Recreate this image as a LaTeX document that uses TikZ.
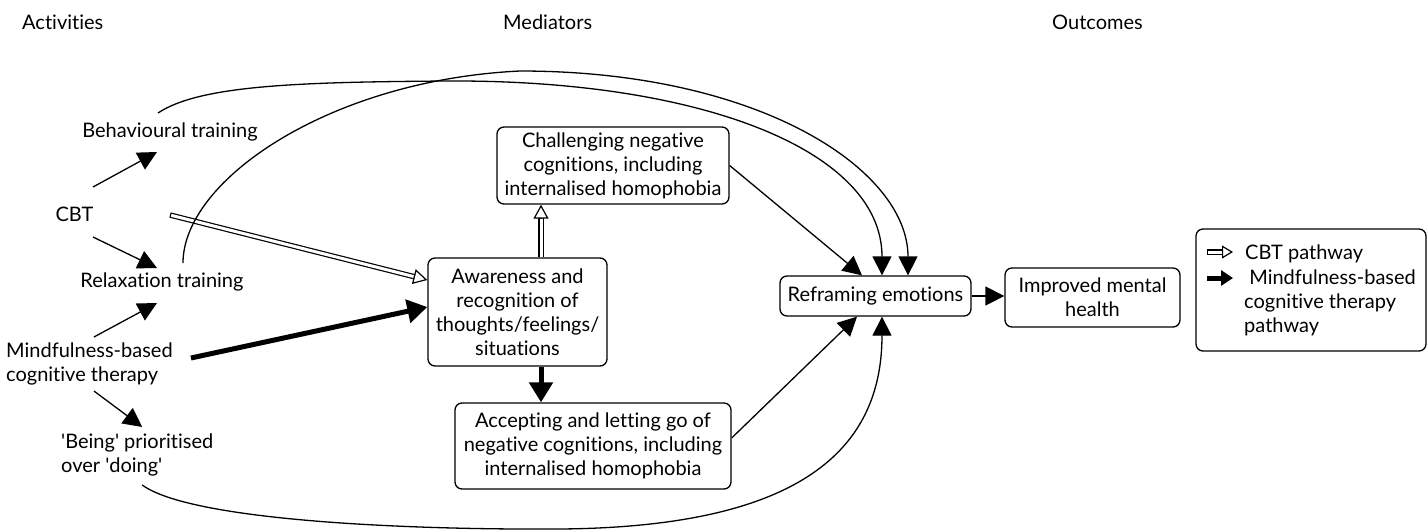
\documentclass[tikz,border=0pt]{standalone}
\usepackage{fontspec}
\setmainfont{Lato}[Ligatures=NoCommon]
\usetikzlibrary{arrows.meta,calc}
\begin{document}
\begin{tikzpicture}[x=1pt,y=-1pt,
  txt/.style={inner sep=0pt, font=\fontsize{20}{24}\selectfont, align=center},
  box/.style={draw, line width=1.3pt, rounded corners=7pt, inner sep=0pt, font=\fontsize{20}{24}\selectfont, align=center},
  hdr/.style={inner sep=0pt, anchor=west, font=\fontsize{20}{24}\selectfont},
  arr/.style={line width=1.3pt, -{Triangle[length=19pt,width=19pt]}},
  boldarr/.style={line width=5pt, -{Triangle[length=20pt,width=23pt]}},
  dblout/.style={line width=5.4pt},
  dblin/.style={white, line width=3pt, shorten <=1.2pt},
  openhd/.style={line width=1.2pt, -{Triangle[open,length=14pt,width=15pt]}},
]
\useasboundingbox (0,0) rectangle (1427,531);

% headers
\node[hdr] (h1) at (22,22.5) {Activities};
\node[hdr] (h2) at (503,22.5) {Mediators};
\node[hdr] (h3) at (1052,22.5) {Outcomes};

% activities
\node[txt] (beh) at (170,132) {Behavioural training};
\node[txt] (cbt) at (74.5,214) {CBT};
\node[txt] (rel) at (162,282) {Relaxation training};
\node[txt, align=left, anchor=west] (mbct) at (6,364) {Mindfulness-based\\cognitive therapy};
\node[txt, align=left, anchor=west] (being) at (61,455) {\textquotesingle Being\textquotesingle{} prioritised\\over \textquotesingle doing\textquotesingle};

% mediators
\node[box, minimum width=179pt, minimum height=108pt] (aw) at (517.5,312) {Awareness and\\recognition of\\thoughts/feelings/\\situations};
\node[box, minimum width=232pt, minimum height=77pt] (ch) at (613,165.5) {Challenging negative\\cognitions, including\\internalised homophobia};
\node[box, minimum width=276pt, minimum height=86pt] (ac) at (593,446) {Accepting and letting go of\\negative cognitions, including\\internalised homophobia};
\node[box, minimum width=191pt, minimum height=40pt] (rf) at (875.5,296) {Reframing emotions};
\node[box, minimum width=175pt, minimum height=59pt] (im) at (1092.5,297.5) {Improved mental\\health};

% legend
\node[box, minimum width=230pt, minimum height=122pt] (lg) at (1311,290) {};
\node[txt, anchor=west] (l1t) at (1245,254) {CBT pathway};
\node[txt, anchor=north west, align=left] (l2t) at (1244,270) {\ Mindfulness-based\\cognitive therapy\\pathway};
\coordinate (l1s) at (1207,252);
\coordinate (l1e) at (1233,252);
\coordinate (l2s) at (1207,278);
\coordinate (l2e) at (1233,278);
\draw[dblout, shorten >=10pt] (l1s) -- (l1e);
\draw[dblin, shorten >=10pt] (l1s) -- (l1e);
\draw[line width=1.2pt, -{Triangle[open,length=11pt,width=13pt]}] ($(l1e)!11pt!(l1s)$) -- (l1e);
\draw[line width=5pt, -{Triangle[length=12pt,width=15pt]}] (l2s) -- (l2e);

% activity arrows
\draw[arr] ($(cbt.center)+(18.5,-27)$) -- ($(beh.center)+(-13,20)$);
\draw[arr] ($(cbt.center)+(18.5,23)$) -- ($(rel.center)+(-5,-14)$);
\draw[arr] ($(mbct.center)+(4.5,-27)$) -- ($(rel.center)+(-5,21)$);
\draw[arr] ($(mbct.center)+(4.5,27)$) -- ($(being.center)+(5,-28)$);

% CBT pathway
\coordinate (c1) at ($(cbt.center)+(95.5,1)$);
\coordinate (c2) at ($(aw.west)+(0,-32)$);
\draw[dblout, shorten >=13pt] (c1) -- (c2);
\draw[dblin, shorten >=13pt] (c1) -- (c2);
\draw[openhd] ($(c2)!14pt!(c1)$) -- (c2);
\coordinate (a1) at ($(aw.north)+(23.5,0)$);
\coordinate (a2) at ($(ch.south)+(-72,0)$);
\draw[dblout, shorten >=13pt] (a1) -- (a2);
\draw[dblin, shorten >=13pt, shorten <=0pt] (a1) -- (a2);
\draw[openhd] ($(a2)!14pt!(a1)$) -- (a2);

% MBCT pathway
\draw[boldarr] ($(mbct.center)+(101.5,-6)$) -- ($(aw.west)+(0,-5)$);
\draw[boldarr] ($(aw.south)+(23.5,0)$) -- ($(ac.north)+(-52,0)$);

% to reframing
\draw[arr] (ch.east) -- ($(rf.north)+(-13.5,0)$);
\draw[arr] ($(ac.east)+(0,-8)$) -- ($(rf.south)+(-18.5,0)$);
\draw[arr] (rf.east) -- (im.west |- rf.east);

% curves
\draw[arr] ($(beh.center)+(-12,-19)$) .. controls (200,85) and (300,82) .. (450,81) .. controls (700,80) and (882,150) .. ($(rf.north)+(6.5,0)$);
\draw[arr] ($(rel.center)+(21,-19)$) .. controls (183,180) and (330,80) .. (520,71) .. controls (760,71) and (908,170) .. ($(rf.north)+(32.5,0)$);
\draw[arr] ($(being.center)+(5,30)$) .. controls (190,520) and (400,530) .. (560,529) .. controls (800,527) and (882,450) .. ($(rf.south)+(6.5,0)$);
\end{tikzpicture}
\end{document}
